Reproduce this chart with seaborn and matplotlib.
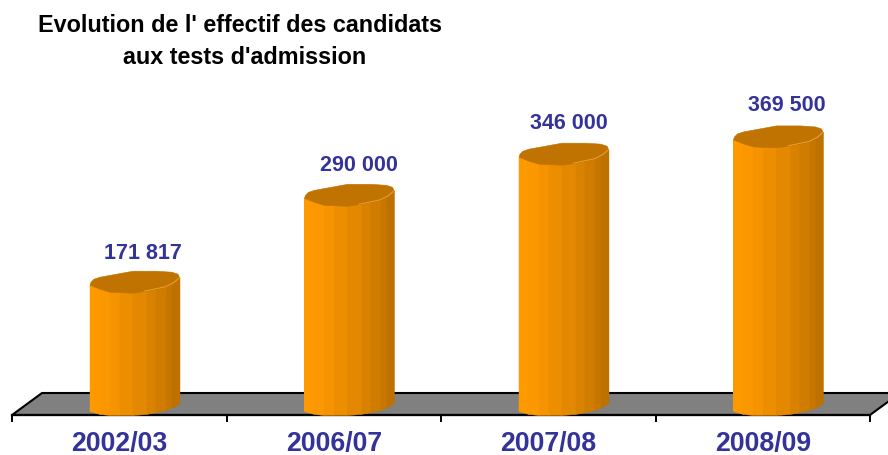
import numpy as np
import pandas as pd
import matplotlib
matplotlib.use("Agg")
import matplotlib.pyplot as plt
from matplotlib.patches import Polygon
import seaborn as sns

years = ["2002/03", "2006/07", "2007/08", "2008/09"]
candidats = [171817, 290000, 346000, 369500]
labels = ["171 817", "290 000", "346 000", "369 500"]

BLUE = "#333399"
PT = 72 / 100  # one pixel in points at dpi 100
UNITS_PER_PX = 1 / 7.35e-4
PX_PER_CAT = 214.5

# cylinder shape, in pixels from the left corner of the bar
STRIP_EDGES = [0, 10, 20, 30, 43, 57, 66, 76, 82, 90]
STRIP_COLORS = ["#FF9900", "#FB9700", "#F59300", "#EC8E00", "#E38800",
                "#D98200", "#CF7C00", "#C77700", "#BC7100"]
FRONT_X = [0, 10, 20, 43, 57, 76, 84, 90]
FRONT_TOP = [0, 4, 7, 8, 6, 2, -2, -7]
FRONT_BOT = [0, 3, 4, 4, 3, -1, -4, -8]
BACK_X = [0, 1, 4, 10, 43, 67, 82, 88, 90]
BACK_Y = [0, -3, -6, -8, -14, -14, -13, -11, -7]
BAR_SHIFT = 15.25 / PX_PER_CAT
BAR_W = 90 / PX_PER_CAT
LABEL_DX = [24, 25.5, 21, 24]
LABEL_DY = [32, 33, 34, 35]

sns.set_style("white")
plt.rcParams["font.family"] = ["Liberation Sans", "DejaVu Sans"]

df = pd.DataFrame({"annee": years, "candidats": candidats})

fig = plt.figure(figsize=(8.88, 4.56), dpi=100)
ax = fig.add_axes([12 / 888, (456 - 412) / 456, 858 / 888, 412 / 456])

sns.barplot(data=df, x="annee", y="candidats", color=STRIP_COLORS[0], saturation=1,
            width=BAR_W, ax=ax, zorder=3, linewidth=0)
ax.set_xlim(-0.5, 3.5)
ax.set_ylim(0, 412 * UNITS_PER_PX)


def px_x(px):
    return np.asarray(px) / PX_PER_CAT


def px_y(px):
    # pixels downwards become data units
    return -np.asarray(px) * UNITS_PER_PX


# floor of the 3D box
floor_x = [-0.5, -0.5 + px_x(30), 3.5 + px_x(30), 3.5]
floor_y = [px_y(4), px_y(-18), px_y(-18), px_y(4)]
ax.add_patch(Polygon(np.column_stack([floor_x, floor_y]), closed=True, facecolor="#808080",
                     edgecolor="black", linewidth=1.5, clip_on=False, zorder=1))

for i, (bar, val) in enumerate(zip(ax.patches, candidats)):
    bar.set_x(bar.get_x() + BAR_SHIFT)
    left = bar.get_x()

    xs = np.arange(0, 90.5, 1)
    top = val + px_y(np.interp(xs, FRONT_X, FRONT_TOP))
    bot = px_y(np.interp(xs, FRONT_X, FRONT_BOT))

    outline = np.column_stack([np.r_[left + px_x(xs), left + px_x(xs[::-1])],
                               np.r_[top, bot[::-1]]])
    clip = Polygon(outline, closed=True, transform=ax.transData)
    bar.set_clip_path(clip)

    for x0, x1, col in zip(STRIP_EDGES[:-1], STRIP_EDGES[1:], STRIP_COLORS):
        m = (xs >= x0) & (xs <= x1)
        ax.fill_between(left + px_x(xs[m]), bot[m], top[m], color=col, linewidth=0.3,
                        zorder=4, clip_on=False)

    # cap of the cylinder
    back = val + px_y(np.interp(xs, BACK_X, BACK_Y))
    ax.fill_between(left + px_x(xs), top, back, color="#C07300", linewidth=0.4,
                    zorder=5, clip_on=False)
    ax.plot(left + px_x(xs[55:]), top[55:], color="#E9A030", lw=0.7, zorder=6,
            clip_on=False)

    ax.annotate(labels[i], (i, val), xytext=(LABEL_DX[i] * PT, LABEL_DY[i] * PT),
                textcoords="offset points", ha="center", va="center", fontsize=15.5,
                fontweight="bold", color=BLUE, zorder=7)

ax.set_xlabel("")
ax.set_ylabel("")
ax.set_yticks([])
for side in ["top", "left", "right"]:
    ax.spines[side].set_visible(False)
ax.spines["bottom"].set_position(("outward", 4 * PT))
ax.spines["bottom"].set_linewidth(1.6)
ax.spines["bottom"].set_color("black")
ax.spines["bottom"].set_zorder(2)

ax.set_xticks([-0.5, 0.5, 1.5, 2.5, 3.5])
ax.set_xticklabels([])
ax.set_xticks(range(len(years)), years, minor=True)
ax.tick_params(axis="x", which="major", bottom=True, length=7 * PT, width=1.4, color="black")
ax.tick_params(axis="x", which="minor", bottom=True, length=0, pad=15 * PT,
               labelsize=19.2, labelcolor=BLUE)
for t in ax.get_xticklabels(minor=True):
    t.set_fontweight("bold")

fig.text(240 / 888, 1 - 26 / 456, "Evolution de l' effectif des candidats",
         ha="center", va="center", fontsize=16.8, fontweight="bold", color="black")
fig.text(245 / 888, 1 - 57 / 456, "aux tests d'admission",
         ha="center", va="center", fontsize=16.8, fontweight="bold", color="black")

fig.savefig("out.png", dpi=100)
